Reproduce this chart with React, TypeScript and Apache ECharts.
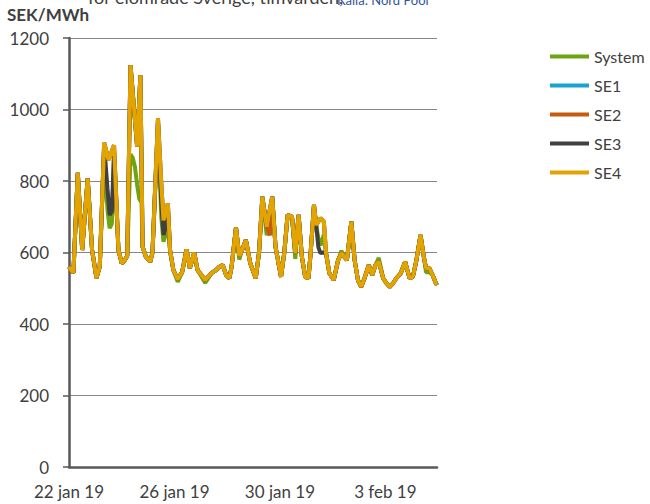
import React, { useEffect, useRef } from "react";
import * as echarts from "echarts";

const xTickHours = [0, 96, 192, 288];
const xTickLabels = ["22 jan 19", "26 jan 19", "30 jan 19", "3 feb 19"];
const seriesNames = ["System", "SE1", "SE2", "SE3", "SE4"];
const seriesColors = ["#6ea412", "#1aa3cf", "#c55a11", "#404040", "#e3a300"];

// [hour since 22 jan 19 00:00, SEK/MWh]
const system = [
  [0, 560], [4, 543], [8, 823], [12, 607], [17, 807], [21, 607], [25, 529], [28, 560], [32, 880], [35, 720], [37, 668], [39, 680], [41, 870], [45, 607], [48, 570], [50, 575], [53, 590], [56, 875], [58, 865], [60, 840], [62, 790], [64, 750], [66, 740], [67, 616], [70, 588], [74, 574], [76, 600], [81, 950], [84, 700], [86, 630], [88, 650], [90, 700], [92, 600], [95, 551], [99, 518], [103, 545], [107, 609], [110, 556], [114, 600], [117, 551], [124, 515], [130, 543], [134, 551], [137, 560], [140, 565], [143, 537], [146, 528], [148, 560], [152, 670], [155, 580], [157, 602], [161, 635], [165, 570], [170, 528], [173, 600], [176, 740], [178, 700], [180, 648], [183, 690], [185, 756], [188, 616], [193, 532], [196, 600], [199, 705], [203, 700], [206, 582], [209, 705], [212, 588], [215, 532], [218, 528], [220, 600], [223, 725], [225, 677], [227, 640], [229, 620], [232, 650], [234, 598], [237, 542], [241, 523], [245, 579], [248, 605], [250, 590], [253, 579], [257, 686], [260, 579], [263, 523], [266, 504], [269, 528], [272, 556], [273, 565], [276, 537], [279, 565], [282, 585], [286, 528], [289, 514], [292, 504], [295, 514], [298, 528], [302, 542], [306, 574], [310, 528], [313, 532], [316, 574], [320, 649], [323, 588], [325, 545], [328, 545], [331, 537], [334, 514], [335, 509],
];

const se1 = [
  [0, 560], [4, 543], [8, 823], [12, 607], [17, 807], [21, 607], [25, 529], [28, 560], [32, 907], [36, 859], [41, 900], [45, 607], [48, 570], [50, 575], [53, 590], [56, 1124], [62, 896], [65, 1096], [67, 616], [70, 588], [74, 574], [76, 600], [81, 975], [84, 793], [86, 690], [90, 737], [92, 607], [95, 551], [99, 525], [103, 545], [107, 609], [110, 556], [114, 600], [117, 551], [124, 523], [130, 543], [134, 551], [137, 560], [140, 565], [143, 537], [146, 528], [148, 560], [152, 670], [155, 590], [157, 602], [161, 635], [165, 570], [170, 528], [173, 600], [176, 756], [180, 672], [185, 756], [188, 616], [193, 532], [196, 600], [199, 705], [203, 700], [206, 598], [209, 705], [212, 588], [215, 532], [218, 528], [220, 600], [223, 733], [225, 677], [229, 696], [232, 686], [234, 598], [237, 542], [241, 523], [245, 579], [248, 598], [250, 590], [253, 579], [257, 686], [260, 579], [263, 523], [266, 504], [269, 528], [272, 556], [273, 565], [276, 537], [279, 565], [282, 574], [286, 528], [289, 514], [292, 504], [295, 514], [298, 528], [302, 542], [306, 574], [310, 528], [313, 532], [316, 574], [320, 649], [323, 588], [325, 556], [328, 556], [331, 537], [334, 514], [335, 509],
];

const se2 = [
  [0, 560], [4, 543], [8, 823], [12, 607], [17, 807], [21, 607], [25, 529], [28, 560], [32, 907], [36, 859], [41, 900], [45, 607], [48, 570], [50, 575], [53, 590], [56, 1124], [62, 896], [65, 1096], [67, 616], [70, 588], [74, 574], [76, 600], [81, 975], [84, 793], [86, 690], [90, 737], [92, 607], [95, 551], [99, 525], [103, 545], [107, 609], [110, 556], [114, 600], [117, 551], [124, 523], [130, 543], [134, 551], [137, 560], [140, 565], [143, 537], [146, 528], [148, 560], [152, 670], [155, 590], [157, 602], [161, 635], [165, 570], [170, 528], [173, 600], [176, 756], [180, 672], [183, 648], [184, 700], [185, 756], [188, 616], [193, 532], [196, 600], [199, 705], [203, 700], [206, 598], [209, 705], [212, 588], [215, 532], [218, 528], [220, 600], [223, 733], [225, 677], [229, 696], [232, 686], [234, 598], [237, 542], [241, 523], [245, 579], [248, 598], [250, 590], [253, 579], [257, 686], [260, 579], [263, 523], [266, 504], [269, 528], [272, 556], [273, 565], [276, 537], [279, 565], [282, 574], [286, 528], [289, 514], [292, 504], [295, 514], [298, 528], [302, 542], [306, 574], [310, 528], [313, 532], [316, 574], [320, 649], [323, 588], [325, 556], [328, 556], [331, 537], [334, 514], [335, 509],
];

const se3 = [
  [0, 560], [4, 543], [8, 823], [12, 607], [17, 807], [21, 607], [25, 529], [28, 560], [32, 900], [35, 780], [37, 705], [39, 715], [41, 880], [45, 607], [48, 570], [50, 575], [53, 590], [56, 1124], [62, 896], [65, 1096], [67, 616], [70, 588], [74, 574], [76, 600], [81, 965], [84, 740], [86, 649], [88, 670], [90, 725], [92, 607], [95, 551], [99, 525], [103, 545], [107, 609], [110, 556], [114, 600], [117, 551], [124, 523], [130, 543], [134, 551], [137, 560], [140, 565], [143, 537], [146, 528], [148, 560], [152, 670], [155, 590], [157, 602], [161, 635], [165, 570], [170, 528], [173, 600], [176, 756], [180, 672], [185, 756], [188, 616], [193, 532], [196, 600], [199, 705], [203, 700], [206, 598], [209, 705], [212, 588], [215, 532], [218, 528], [220, 600], [223, 733], [225, 677], [227, 615], [229, 598], [231, 600], [234, 598], [237, 542], [241, 523], [245, 579], [248, 598], [250, 590], [253, 579], [257, 686], [260, 579], [263, 523], [266, 504], [269, 528], [272, 556], [273, 565], [276, 537], [279, 565], [282, 574], [286, 528], [289, 514], [292, 504], [295, 514], [298, 528], [302, 542], [306, 574], [310, 528], [313, 532], [316, 574], [320, 649], [323, 588], [325, 556], [328, 556], [331, 537], [334, 514], [335, 509],
];

const se4 = [
  [0, 560], [4, 543], [8, 823], [12, 607], [17, 807], [21, 607], [25, 529], [28, 560], [32, 907], [36, 859], [41, 900], [45, 607], [48, 570], [50, 575], [53, 590], [56, 1124], [62, 896], [65, 1096], [67, 616], [70, 588], [74, 574], [76, 600], [81, 975], [84, 793], [86, 690], [90, 737], [92, 607], [95, 551], [99, 525], [103, 545], [107, 609], [110, 556], [114, 600], [117, 551], [124, 523], [130, 543], [134, 551], [137, 560], [140, 565], [143, 537], [146, 528], [148, 560], [152, 670], [155, 590], [157, 602], [161, 635], [165, 570], [170, 528], [173, 600], [176, 756], [180, 672], [185, 756], [188, 616], [193, 532], [196, 600], [199, 705], [203, 700], [206, 598], [209, 705], [212, 588], [215, 532], [218, 528], [220, 600], [223, 733], [225, 677], [229, 696], [232, 686], [234, 598], [237, 542], [241, 523], [245, 579], [248, 598], [250, 590], [253, 579], [257, 686], [260, 579], [263, 523], [266, 504], [269, 528], [272, 556], [273, 565], [276, 537], [279, 565], [282, 574], [286, 528], [289, 514], [292, 504], [295, 514], [298, 528], [302, 542], [306, 574], [310, 528], [313, 532], [316, 574], [320, 649], [323, 588], [325, 556], [328, 556], [331, 537], [334, 514], [335, 509],
];

const seriesData = [system, se1, se2, se3, se4];

const FONT = "Lato, 'Noto Sans', sans-serif";

export default function App() {
  const ref = useRef<HTMLDivElement>(null);
  useEffect(() => {
    document.body.style.margin = "0";
    if (!ref.current) return;
    const chart = echarts.init(ref.current, undefined, { renderer: "svg" });
    const labelMap: Record<number, string> = {};
    xTickHours.forEach((h, i) => (labelMap[h] = xTickLabels[i]));
    chart.setOption({
      animation: false,
      backgroundColor: "#ffffff",
      textStyle: { fontFamily: FONT },
      grid: { left: 69, right: 213, top: 38, bottom: 37, containLabel: false },
      graphic: [
        {
          type: "text",
          left: 7,
          top: 6,
          style: { text: "SEK/MWh", font: `bold 17px ${FONT}`, fill: "#404040" },
        },
        {
          type: "text",
          x: 88,
          y: 6,
          style: {
            text: "för elområde Sverige, timvärden,",
            font: `18px ${FONT}`,
            fill: "#404040",
            verticalAlign: "bottom",
          },
        },
        {
          type: "text",
          x: 337,
          y: 6,
          style: {
            text: "Källa: Nord Pool",
            font: `13px ${FONT}`,
            fill: "#2f5597",
            verticalAlign: "bottom",
          },
        },
      ],
      legend: {
        orient: "vertical",
        left: 550,
        top: 48,
        padding: 0,
        icon: "rect",
        itemWidth: 39,
        itemHeight: 4,
        itemGap: 12,
        data: seriesNames,
        textStyle: { fontFamily: FONT, fontSize: 16, color: "#404040", lineHeight: 17 },
      },
      xAxis: {
        type: "value",
        min: 0,
        max: 335,
        interval: 96,
        axisLine: { show: true, lineStyle: { color: "#595959", width: 2.5 } },
        axisTick: { show: false },
        splitLine: { show: false },
        axisLabel: {
          fontFamily: FONT,
          fontSize: 17,
          color: "#404040",
          margin: 16,
          showMaxLabel: false,
          formatter: (v: number) => labelMap[v] ?? "",
        },
      },
      yAxis: {
        type: "value",
        min: 0,
        max: 1200,
        interval: 200,
        axisLine: { show: true, lineStyle: { color: "#595959", width: 2.5 } },
        axisTick: { show: true, length: 6, lineStyle: { color: "#595959", width: 1.5 } },
        splitLine: { show: true, lineStyle: { color: "#868686", width: 1 } },
        axisLabel: {
          fontFamily: FONT,
          fontSize: 17,
          color: "#404040",
          margin: 20,
          formatter: (v: number) => String(v),
        },
      },
      series: seriesNames.map((name, i) => ({
        name,
        type: "line",
        data: seriesData[i],
        showSymbol: false,
        symbol: "none",
        color: seriesColors[i],
        lineStyle: { width: 4, color: seriesColors[i] },
        emphasis: { disabled: true },
      })),
    });
    return () => chart.dispose();
  }, []);
  return <div ref={ref} style={{ position: "absolute", left: 0, top: 0, width: 650, height: 504 }} />;
}
